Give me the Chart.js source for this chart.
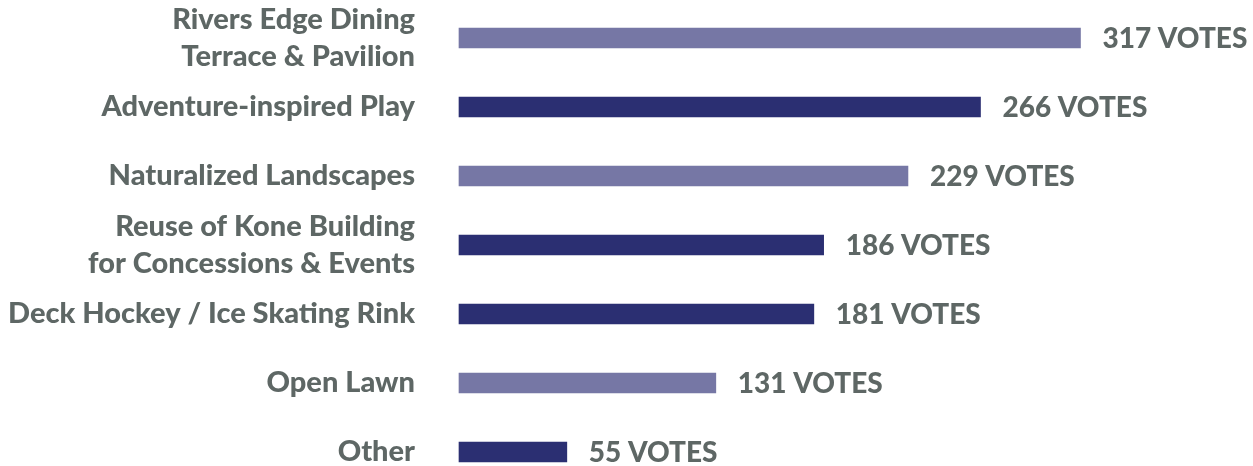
<!DOCTYPE html>
<html>
<head>
<meta charset="utf-8">
<script src="https://cdn.jsdelivr.net/npm/chart.js@4"></script>
<style>
  html, body { margin: 0; padding: 0; background: #fff; }
  #wrap { width: 1253px; height: 466px; position: relative; }
</style>
</head>
<body>
<div id="wrap"><canvas id="votesChart"></canvas></div>
<script>
// survey results: amenities and how many votes each got
const amenities = [
  ['Rivers Edge Dining', 'Terrace & Pavilion'],
  'Adventure-inspired Play',
  'Naturalized Landscapes',
  ['Reuse of Kone Building', 'for Concessions & Events'],
  'Deck Hockey / Ice Skating Rink',
  'Open Lawn',
  'Other'
];
const votes = [317, 266, 229, 186, 181, 131, 55];
const voteSuffix = ' VOTES';

const LIGHT = '#7677a5';
const DARK = '#2b2f72';
const barColors = [LIGHT, DARK, LIGHT, DARK, DARK, LIGHT, DARK];
const textColor = '#5e6765';
const labelFont = { family: 'Lato', weight: '900', size: 29, lineHeight: 1.28 };

// writes "N VOTES" just past the end of each bar
const voteLabels = {
  id: 'voteLabels',
  afterDatasetsDraw(chart) {
    const ctx = chart.ctx;
    const meta = chart.getDatasetMeta(0);
    ctx.save();
    ctx.font = '900 28px Lato';
    ctx.fillStyle = textColor;
    ctx.textAlign = 'left';
    ctx.textBaseline = 'middle';
    meta.data.forEach((bar, i) => {
      ctx.fillText(votes[i] + voteSuffix, bar.x + 22, bar.y + 1);
    });
    ctx.restore();
  }
};

new Chart(document.getElementById('votesChart'), {
  type: 'bar',
  data: {
    labels: amenities,
    datasets: [{
      data: votes,
      backgroundColor: barColors,
      barThickness: 20,
      clip: false
    }]
  },
  options: {
    indexAxis: 'y',
    responsive: true,
    maintainAspectRatio: false,
    animation: false,
    devicePixelRatio: 1,
    layout: { padding: { top: 38, bottom: 14, right: 0, left: 0 } },
    plugins: {
      legend: { display: false },
      tooltip: { enabled: false }
    },
    scales: {
      x: { display: false, min: 0, max: 405 },
      y: {
        offset: false,
        grid: { display: false },
        border: { display: false },
        ticks: { color: textColor, font: labelFont, padding: 36, autoSkip: false },
        afterFit(scale) {
          scale.width = 459;
          // keep the first/last labels from squeezing the plot area
          scale.paddingTop = 0;
          scale.paddingBottom = 0;
        }
      }
    }
  },
  plugins: [voteLabels]
});
</script>
</body>
</html>
